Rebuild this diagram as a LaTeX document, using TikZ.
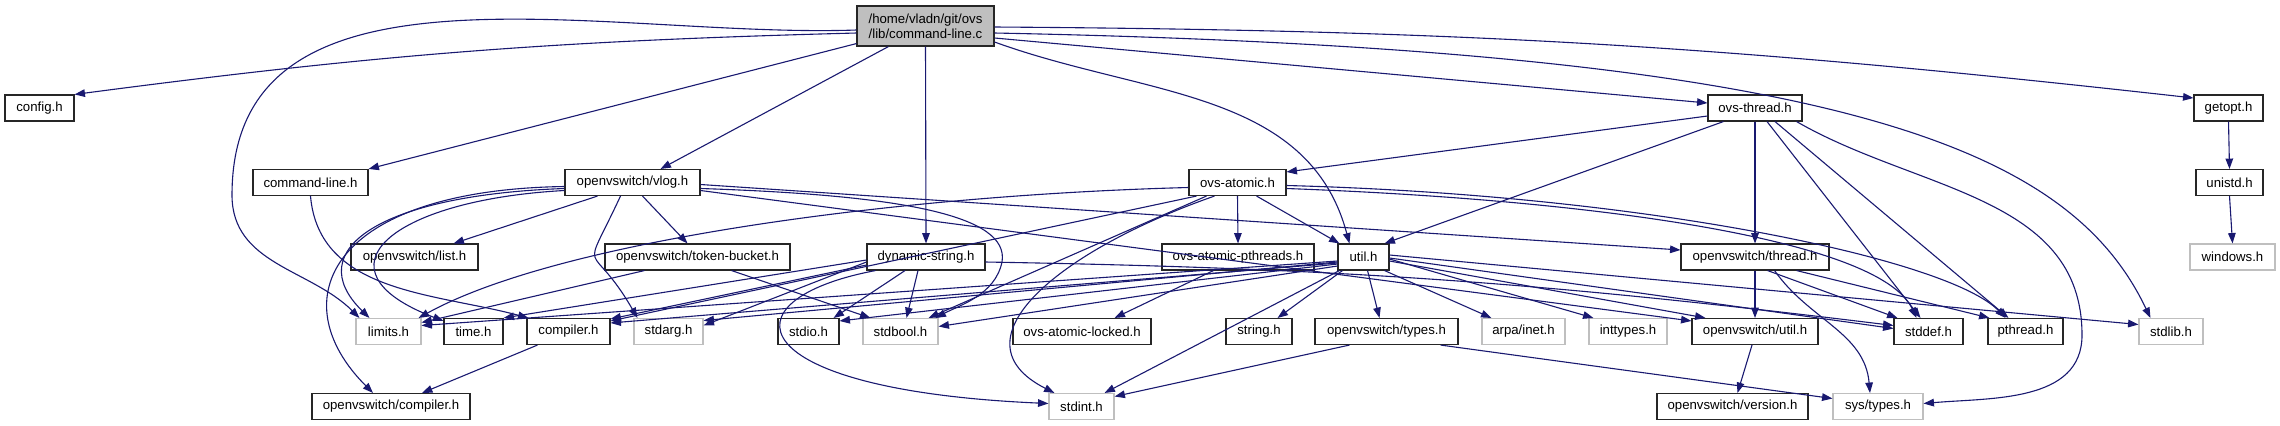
\documentclass[tikz,border=0pt]{standalone}
\usepackage{fontspec}
\setmainfont{Liberation Sans}
\usetikzlibrary{arrows.meta,calc}
\definecolor{eblue}{HTML}{191970}
\definecolor{gbord}{HTML}{BFBFBF}
\definecolor{mfill}{HTML}{BFBFBF}
\begin{document}
\begin{tikzpicture}[x=0.5pt,y=0.5pt,
  box/.style={draw=black!85, line width=0.55pt, fill=white, minimum height=13pt, inner sep=0pt,
    font=\fontsize{6.6pt}{7.6pt}\selectfont},
  gbox/.style={box, draw=gbord, line width=0.55pt},
  e/.style={draw=eblue, line width=0.55pt, -{Triangle[length=5.2pt,width=3.8pt]}}]
\useasboundingbox (0,0) rectangle (2280,-425);
% nodes
\node[box, fill=mfill, minimum width=68.5pt, minimum height=20pt, align=center] (main) at (925.5,-26) {/home/vladn/git/ovs\\/lib/command-line.c};
\node[box, minimum width=34.5pt] (config) at (39.5,-108) {config.h};
\node[box, minimum width=47pt] (ovsthread) at (1755,-108) {ovs-thread.h};
\node[box, minimum width=34.5pt] (getopt) at (2228.5,-108) {getopt.h};
\node[box, minimum width=57.5pt] (cmdline) at (310.5,-182.5) {command-line.h};
\node[box, minimum width=67.5pt] (vlog) at (632.5,-182.5) {openvswitch/vlog.h};
\node[box, minimum width=48.5pt] (ovsatomic) at (1237.5,-182.5) {ovs-atomic.h};
\node[box, minimum width=33.5pt] (unistd) at (2229.5,-182.5) {unistd.h};
\node[box, minimum width=63.5pt] (list) at (414.5,-257) {openvswitch/list.h};
\node[box, minimum width=92.5pt] (tokenb) at (697.5,-257) {openvswitch/token-bucket.h};
\node[box, minimum width=59pt] (dynstr) at (926,-257) {dynamic-string.h};
\node[box, minimum width=76pt] (pthreads) at (1238,-257) {ovs-atomic-pthreads.h};
\node[box, minimum width=25.5pt] (util) at (1363.5,-257) {util.h};
\node[box, minimum width=74pt] (othread) at (1755,-257) {openvswitch/thread.h};
\node[gbox, minimum width=42.5pt] (windows) at (2232.5,-257) {windows.h};
\node[gbox, minimum width=32.5pt] (limits) at (388.5,-331.5) {limits.h};
\node[box, minimum width=29.5pt] (time) at (473.5,-331.5) {time.h};
\node[box, minimum width=41.5pt] (compiler) at (568.5,-331.5) {compiler.h};
\node[gbox, minimum width=34.5pt] (stdarg) at (668.5,-331.5) {stdarg.h};
\node[box, minimum width=30.5pt] (stdio) at (808.5,-331.5) {stdio.h};
\node[gbox, minimum width=37.5pt] (stdbool) at (900.5,-331.5) {stdbool.h};
\node[box, minimum width=69pt] (alocked) at (1082,-331.5) {ovs-atomic-locked.h};
\node[box, minimum width=33pt] (string) at (1259,-331.5) {string.h};
\node[box, minimum width=71.5pt] (otypes) at (1386.5,-331.5) {openvswitch/types.h};
\node[gbox, minimum width=41.5pt] (arpa) at (1523.5,-331.5) {arpa/inet.h};
\node[gbox, minimum width=39pt] (inttypes) at (1628,-331.5) {inttypes.h};
\node[box, minimum width=63pt] (outil) at (1755,-331.5) {openvswitch/util.h};
\node[box, minimum width=34.5pt] (stddef) at (1928.5,-331.5) {stddef.h};
\node[box, minimum width=37.5pt] (pthread) at (2025.5,-331.5) {pthread.h};
\node[gbox, minimum width=32pt] (stdlib) at (2171,-331.5) {stdlib.h};
\node[box, minimum width=79pt] (ocompiler) at (391,-406.5) {openvswitch/compiler.h};
\node[gbox, minimum width=32.5pt] (stdint) at (1081.5,-406.5) {stdint.h};
\node[box, minimum width=75.5pt] (oversion) at (1732.5,-406.5) {openvswitch/version.h};
\node[gbox, minimum width=45pt] (systypes) at (1878,-406.5) {sys/types.h};
% main
\draw[e] ($(main.west)+(0,-7)$) to[bend right=3] (config.north east);
\draw[e] ($(main.west)+(0,-4)$) to[out=182,in=90] (232,-195) to[out=-90,in=135] ($(limits.north west)+(4,0)$);
\draw[e] ($(main.south west)+(0,3)$) -- (cmdline.north east);
\draw[e] ($(main.south west)+(32,0)$) -- ($(vlog.north east)+(-40,0)$);
\draw[e] (main.south) -- (dynstr.north);
\draw[e] ($(main.east)+(0,-16)$) to[out=-20,in=105] ($(util.north west)+(12,0)$);
\draw[e] ($(main.east)+(0,-12)$) -- ($(ovsthread.west)+(0,5)$);
\draw[e] ($(main.east)+(0,-7)$) .. controls (1850,-50) and (2070,-150) .. ($(stdlib.north west)+(12,0)$);
\draw[e] ($(main.east)+(0,-1)$) to[bend left=3] ($(getopt.west)+(0,10)$);
% command-line.h
\draw[e] (cmdline.south) to[out=-85,in=165] ($(compiler.north west)+(2,0)$);
% vlog.h
\draw[e] ($(vlog.south)+(-35,0)$) -- ($(list.north east)+(-25,0)$);
\draw[e] ($(vlog.south)+(10,0)$) -- ($(tokenb.north)+(-10,0)$);
\draw[e] ($(vlog.south)+(-12,0)$) to[out=-115,in=120,looseness=2] ($(stdarg.north west)+(4,0)$);
\draw[e] ($(vlog.west)+(0,-6)$) .. controls (380,-195) and (300,-250) .. ($(limits.north west)+(14,0)$);
\draw[e] ($(vlog.west)+(0,-8)$) .. controls (390,-200) and (310,-270) .. ($(time.north west)+(0,-3)$);
\draw[e] ($(vlog.west)+(0,-4)$) .. controls (330,-190) and (280,-300) .. ($(ocompiler.north)+(-18,0)$);
\draw[e] ($(vlog.east)+(0,-6)$) .. controls (900,-195) and (1010,-215) .. (1002,-262) .. controls (995,-295) and (960,-305) .. ($(stdbool.north east)+(-3,0)$);
\draw[e] ($(vlog.east)+(0,-2)$) -- ($(othread.west)+(0,7)$);
\draw[e] ($(vlog.east)+(0,-8)$) -- ($(outil.north west)+(0,-3)$);
% token-bucket
\draw[e] ($(tokenb.south west)+(40,0)$) -- ($(limits.east)+(0,9)$);
\draw[e] ($(tokenb.south east)+(-59,0)$) -- ($(stdbool.north west)+(8,0)$);
% compiler
\draw[e] ($(compiler.south west)+(11,0)$) -- ($(ocompiler.north)+(31,0)$);
% dynamic-string
\draw[e] ($(dynstr.south)+(-21,0)$) -- ($(stdio.north east)+(-6,0)$);
\draw[e] ($(dynstr.south)+(-8,0)$) -- ($(stdbool.north)+(6,0)$);
\draw[e] ($(dynstr.south west)+(9,0)$) .. controls (720,-300) and (740,-390) .. ($(stdint.west)+(0,3)$);
\draw[e] ($(dynstr.east)+(0,-5)$) to[bend left=3] ($(stddef.west)+(0,6)$);
\draw[e] ($(dynstr.west)+(0,-5)$) -- ($(stdarg.east)+(0,6)$);
\draw[e] ($(dynstr.west)+(0,-8)$) -- ($(compiler.north east)+(0,-1)$);
\draw[e] ($(dynstr.west)+(0,-3)$) -- (time.north east);
% ovs-atomic
\draw[e] ($(ovsatomic.west)+(0,-5)$) .. controls (900,-195) and (560,-240) .. ($(limits.north east)+(-3,0)$);
\draw[e] ($(ovsatomic.south west)+(8,0)$) -- ($(compiler.north east)+(0,-3)$);
\draw[e] ($(ovsatomic.south west)+(18,0)$) -- ($(stdbool.north east)+(-10,0)$);
\draw[e] ($(ovsatomic.south west)+(26,0)$) .. controls (1060,-250) and (950,-340) .. ($(stdint.north west)+(6,0)$);
\draw[e] (ovsatomic.south) -- (pthreads.north);
\draw[e] ($(ovsatomic.south east)+(-30,0)$) -- ($(util.north west)+(2,0)$);
\draw[e] ($(ovsatomic.east)+(0,-6)$) .. controls (1600,-200) and (1880,-240) .. ($(stddef.north)+(-12,0)$);
\draw[e] ($(ovsatomic.east)+(0,-3)$) .. controls (1650,-195) and (1950,-260) .. ($(pthread.north)+(-20,0)$);
% ovs-atomic-pthreads
\draw[e] ($(pthreads.south west)+(52,0)$) -- ($(alocked.north east)+(-37,0)$);
% util.h
\draw[e] ($(util.west)+(0,-4)$) -- ($(limits.east)+(0,6)$);
\draw[e] ($(util.west)+(0,-5)$) -- ($(stdarg.east)+(0,11)$);
\draw[e] ($(util.west)+(0,-6)$) -- ($(compiler.north east)+(0,-5)$);
\draw[e] ($(util.west)+(0,-7)$) -- ($(stdio.north east)+(0,-3)$);
\draw[e] ($(util.west)+(0,-9)$) -- ($(stdbool.east)+(0,5)$);
\draw[e] ($(util.south west)+(5,0)$) -- ($(string.north east)+(-15,0)$);
\draw[e] ($(util.south west)+(2,0)$) -- ($(stdint.north east)+(-10,0)$);
\draw[e] ($(util.south)+(4,0)$) -- ($(otypes.north)+(-7,0)$);
\draw[e] ($(util.south east)+(-5,0)$) -- ($(arpa.north west)+(10,0)$);
\draw[e] ($(util.east)+(0,-2)$) -- ($(inttypes.north west)+(5,0)$);
\draw[e] ($(util.east)+(0,-4)$) -- ($(outil.north west)+(14,0)$);
\draw[e] ($(util.east)+(0,-1)$) -- ($(stddef.west)+(0,3)$);
\draw[e] ($(util.east)+(0,2)$) -- ($(stdlib.west)+(0,7)$);
% ovs-thread
\draw[e] ($(ovsthread.west)+(0,-8)$) -- ($(ovsatomic.north east)+(0,-3)$);
\draw[e] ($(ovsthread.south west)+(16,0)$) -- ($(util.north east)+(-5,0)$);
\draw[e] (ovsthread.south) -- (othread.north);
\draw[e] ($(ovsthread.south)+(12,0)$) -- ($(stddef.north)+(-8,0)$);
\draw[e] ($(ovsthread.south)+(20,0)$) -- ($(pthread.north)+(-17,0)$);
\draw[e] ($(ovsthread.south east)+(-6,0)$) to[out=-30,in=90] (2082,-335) to[out=-90,in=5] ($(systypes.east)+(0,3)$);
% openvswitch/thread
\draw[e] (othread.south) -- (outil.north);
\draw[e] ($(othread.south east)+(-62,0)$) -- ($(stddef.north west)+(4,0)$);
\draw[e] ($(othread.south east)+(-33,0)$) -- ($(pthread.north west)+(2,0)$);
\draw[e] ($(othread.south east)+(-55,0)$) to[out=-55,in=95] ($(systypes.north)+(-8,0)$);
% others
\draw[e] ($(outil.south)+(-3,0)$) -- ($(oversion.north)+(5,0)$);
\draw[e] ($(otypes.south east)+(-18,0)$) -- ($(systypes.west)+(0,8)$);
\draw[e] ($(otypes.south west)+(35,0)$) -- ($(stdint.east)+(0,10)$);
\draw[e] (getopt.south) -- (unistd.north);
\draw[e] (unistd.south) -- (windows.north);
\end{tikzpicture}
\end{document}
